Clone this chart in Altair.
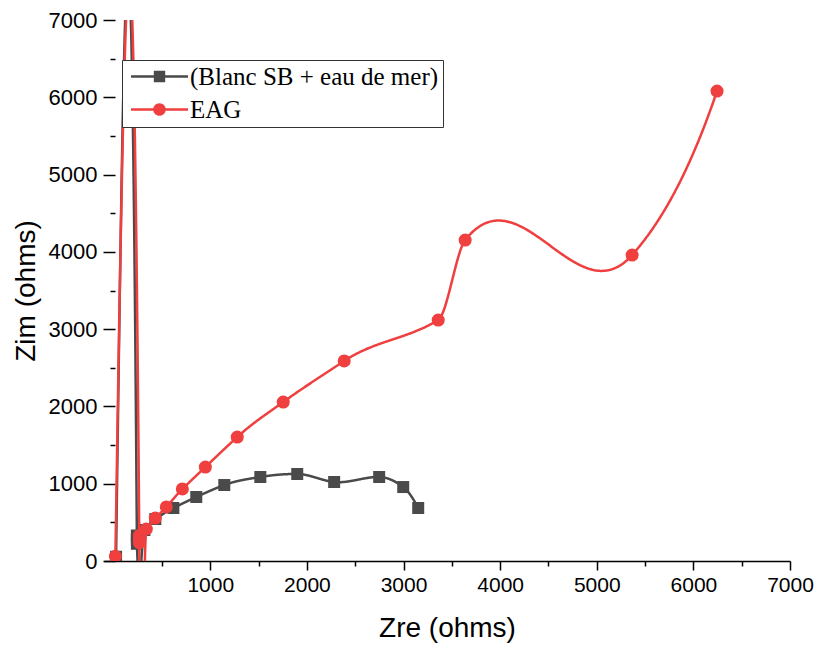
import altair as alt
import numpy as np
import pandas as pd

# Nyquist data (ohms): real part Zre, imaginary part Zim, ordered by Zre
series_names = ["(Blanc SB + eau de mer)", "EAG"]
series_colors = ["#4a4a4a", "#ef3f3f"]

blanc_zre = [25, 240, 240.3, 240.6, 318, 431, 618, 855, 1145, 1518, 1900, 2282, 2748, 2997, 3152]
blanc_zim = [55, 330, 276, 223, 401, 543, 686, 828, 983, 1087, 1126, 1022, 1087, 957, 686]

eag_zre = [18, 265, 265.3, 265.6, 338, 431, 545, 711, 949, 1279, 1755, 2386, 3359, 3638, 5366, 6245]
eag_zim = [60, 330, 284, 238, 414, 556, 699, 932, 1216, 1604, 2057, 2588, 3118, 4153, 3959, 6081]

x_ticks = list(range(500, 7001, 500))
y_ticks = list(range(0, 7001, 500))


def akima_curve(xs, ys, samples=160):
    """Akima spline y(x) through the measured points, sampled densely."""
    x = np.asarray(xs, float)
    y = np.asarray(ys, float)
    n = len(x)
    m = np.diff(y) / np.diff(x)
    mm = np.empty(n + 3)
    mm[2:n + 1] = m
    mm[1] = 2 * m[0] - m[1]
    mm[0] = 2 * mm[1] - m[0]
    mm[n + 1] = 2 * m[-1] - m[-2]
    mm[n + 2] = 2 * mm[n + 1] - m[-1]
    t = np.empty(n)
    for i in range(n):
        w1 = abs(mm[i + 3] - mm[i + 2])
        w2 = abs(mm[i + 1] - mm[i])
        if w1 + w2 < 1e-9:
            t[i] = 0.5 * (mm[i + 1] + mm[i + 2])
        else:
            t[i] = (w1 * mm[i + 1] + w2 * mm[i + 2]) / (w1 + w2)
    out_x, out_y = [], []
    for i in range(n - 1):
        h = x[i + 1] - x[i]
        s = np.linspace(x[i], x[i + 1], samples, endpoint=False)
        u = (s - x[i]) / h
        h00 = 2 * u ** 3 - 3 * u ** 2 + 1
        h10 = u ** 3 - 2 * u ** 2 + u
        h01 = -2 * u ** 3 + 3 * u ** 2
        h11 = u ** 3 - u ** 2
        out_x.extend(s)
        out_y.extend(h00 * y[i] + h10 * h * t[i] + h01 * y[i + 1] + h11 * h * t[i + 1])
    out_x.append(x[-1])
    out_y.append(y[-1])
    return np.array(out_x), np.array(out_y)


def curve_frame(zre, zim):
    cx, cy = akima_curve(zre, zim)
    return pd.DataFrame({"zre": cx, "zim": cy, "step": np.arange(len(cx))})


blanc_curve = curve_frame(blanc_zre, blanc_zim)
eag_curve = curve_frame(eag_zre, eag_zim)
blanc_pts = pd.DataFrame({"zre": blanc_zre, "zim": blanc_zim, "series": series_names[0]})
eag_pts = pd.DataFrame({"zre": eag_zre, "zim": eag_zim, "series": series_names[1]})
all_pts = pd.concat([blanc_pts, eag_pts], ignore_index=True)

tick_font = "Liberation Sans, Arial"
title_font = "Liberation Sans, Arial"

x_axis = alt.Axis(
    values=x_ticks, format="d",
    labelExpr="datum.value % 1000 === 0 ? datum.label : ''",
    tickSize={"condition": {"test": "datum.value % 1000 === 0", "value": 9}, "value": 5},
    tickWidth=1.5, tickColor="black", domainColor="black", domainWidth=1.5,
    labelFont=tick_font, labelFontSize=21, labelColor="black", labelPadding=4,
    labelFlush=False, labelOverlap=False, grid=False,
    titleFont=title_font, titleFontSize=28, titleFontWeight="normal",
    titleColor="black", titlePadding=19,
)
y_axis = alt.Axis(
    values=y_ticks, format="d",
    labelExpr="datum.value % 1000 === 0 ? datum.label : ''",
    tickSize={"condition": {"test": "datum.value % 1000 === 0", "value": 12}, "value": 5},
    tickWidth=1.5, tickColor="black", domain=False, offset=-11,
    labelFont=tick_font, labelFontSize=22, labelColor="black", labelPadding=6,
    labelFlush=False, labelOverlap=False, grid=False,
    titleFont=title_font, titleFontSize=28, titleFontWeight="normal",
    titleColor="black", titlePadding=8,
)

x_enc = alt.X("zre:Q", title="Zre (ohms)",
              scale=alt.Scale(domain=[-100, 7000], nice=False, zero=False), axis=x_axis)
y_enc = alt.Y("zim:Q", title="Zim (ohms)",
              scale=alt.Scale(domain=[0, 7000], nice=False, zero=False), axis=y_axis)


def series_layers(curve, pts, color, shape, size):
    line = alt.Chart(curve).mark_line(clip=True, strokeWidth=2.5, color=color).encode(
        x=x_enc, y=y_enc, order="step:Q")
    dots = alt.Chart(pts).mark_point(filled=True, opacity=1, color=color, shape=shape,
                                     size=size, clip=True).encode(x=x_enc, y=y_enc)
    return [line, dots]


# legend glyphs: a short line segment with the series marker in its middle
square_glyph = "M-4.75,-0.2H4.75V0.2H-4.75Z M-0.95,-0.95H0.95V0.95H-0.95Z"
circle_glyph = ("M-4.75,-0.2H4.75V0.2H-4.75Z "
                "M-1.05,0A1.05,1.05,0,1,1,1.05,0A1.05,1.05,0,1,1,-1.05,0Z")

legend = alt.Legend(
    title=None, orient="none", legendX=18, legendY=40,
    symbolSize=144, symbolOpacity=1, symbolStrokeWidth=0, symbolOffset=21,
    labelFont="Liberation Serif, Times New Roman", labelFontSize=25,
    labelColor="black", labelOffset=18, labelLimit=0,
    padding=4, rowPadding=7, strokeColor="#333333", fillColor="white",
)

legend_layer = alt.Chart(all_pts).mark_point(filled=True, opacity=0).encode(
    x=x_enc, y=y_enc,
    color=alt.Color("series:N", scale=alt.Scale(domain=series_names, range=series_colors),
                    legend=legend),
    shape=alt.Shape("series:N", scale=alt.Scale(domain=series_names,
                                                range=[square_glyph, circle_glyph]),
                    legend=legend),
)

layers = (series_layers(blanc_curve, blanc_pts, series_colors[0], "square", 144)
          + series_layers(eag_curve, eag_pts, series_colors[1], "circle", 170)
          + [legend_layer])

chart = alt.layer(*layers).properties(
    width=686, height=541,
    autosize=alt.AutoSizeParams(type="none"),
    padding={"left": 104, "top": 20, "right": 25, "bottom": 84},
    background="white",
).configure_view(stroke=None)

chart.save("out.html", embed_options={"renderer": "svg", "actions": False})
